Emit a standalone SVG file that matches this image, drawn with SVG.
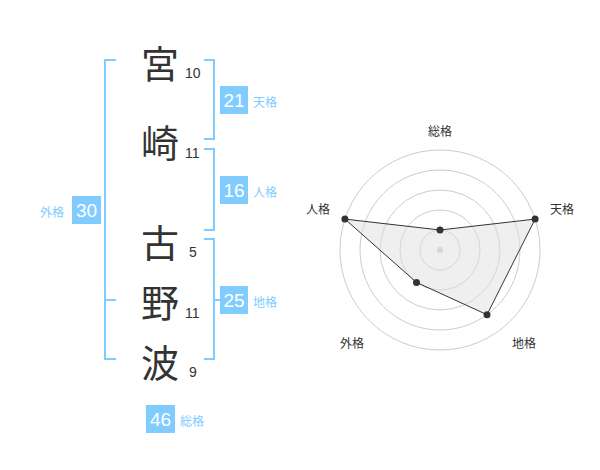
<svg xmlns="http://www.w3.org/2000/svg" width="600" height="470" viewBox="0 0 600 470">
<style>
.kanji{font-family:"Noto Sans CJK JP","Noto Sans CJK SC",sans-serif;font-size:38px;fill:#333;text-anchor:middle;dominant-baseline:central}
.num{font-family:"Liberation Sans",Arial,sans-serif;font-size:14px;fill:#333}
.br{fill:none;stroke:#80ccff;stroke-width:2}
.box{fill:#80ccff}
.bnum{font-family:"Liberation Sans",Arial,sans-serif;font-size:19px;fill:#fff;text-anchor:middle;dominant-baseline:central}
.blab{font-family:"Noto Sans CJK JP",sans-serif;font-size:12px;fill:#80ccff;dominant-baseline:central}
.ring{fill:none;stroke:#ccc;stroke-width:1}
.rlab{font-family:"Noto Sans CJK JP",sans-serif;font-size:12px;fill:#333;text-anchor:middle;dominant-baseline:central}
.pt{fill:#333}
</style>
<rect width="600" height="470" fill="#fff"/>
<g id="chars">
<text class="kanji" x="160" y="61">宮</text>
<text class="kanji" x="160" y="140">崎</text>
<text class="kanji" x="160" y="240">古</text>
<text class="kanji" x="160" y="300">野</text>
<text class="kanji" x="160" y="360">波</text>
<text class="num" x="185" y="78">10</text>
<text class="num" x="185" y="158">11</text>
<text class="num" x="189" y="257">5</text>
<text class="num" x="185" y="318">11</text>
<text class="num" x="189" y="377">9</text>
</g>
<g id="connectors">
<path class="br" d="M116,60 H105 V359 H116 M105,300 H116"/>
<path class="br" d="M204,60 H214 V139 H204"/>
<path class="br" d="M204,149 H214 V230 H204"/>
<path class="br" d="M204,239 H214 V359 H204 M214,300 H224"/>
</g>
<g id="tenkaku"><rect class="box" x="220" y="86" width="28" height="28"/><text class="bnum" x="234" y="100">21</text><text class="blab" x="253" y="101">天格</text></g>
<g id="jinkaku"><rect class="box" x="220" y="176" width="28" height="28"/><text class="bnum" x="234" y="190">16</text><text class="blab" x="253" y="191">人格</text></g>
<g id="gaikaku"><rect class="box" x="72" y="196" width="29" height="28"/><text class="bnum" x="86.5" y="210">30</text><text class="blab" x="40" y="211">外格</text></g>
<g id="chikaku"><rect class="box" x="220" y="286" width="28" height="28"/><text class="bnum" x="234" y="300">25</text><text class="blab" x="253" y="301">地格</text></g>
<g id="soukaku"><rect class="box" x="146" y="405" width="29" height="28"/><text class="bnum" x="160.5" y="419">46</text><text class="blab" x="180" y="420">総格</text></g>
<g id="radar">
<circle class="ring" cx="440" cy="250" r="20"/>
<circle class="ring" cx="440" cy="250" r="40"/>
<circle class="ring" cx="440" cy="250" r="60"/>
<circle class="ring" cx="440" cy="250" r="80"/>
<circle class="ring" cx="440" cy="250" r="100"/>
<circle cx="440" cy="250" r="3" fill="#ccc"/>
<polygon points="440,230 535.1,219.1 487,314.7 416.5,282.4 344.9,219.1" fill="#e0e0e0" fill-opacity="0.5" stroke="#333" stroke-width="1"/>
<circle class="pt" cx="440" cy="230" r="3.5"/>
<circle class="pt" cx="535.1" cy="219.1" r="3.5"/>
<circle class="pt" cx="487" cy="314.7" r="3.5"/>
<circle class="pt" cx="416.5" cy="282.4" r="3.5"/>
<circle class="pt" cx="344.9" cy="219.1" r="3.5"/>
<text class="rlab" x="440" y="130">総格</text>
<text class="rlab" x="562" y="208">天格</text>
<text class="rlab" x="318" y="208">人格</text>
<text class="rlab" x="352" y="342">外格</text>
<text class="rlab" x="524" y="342">地格</text>
</g>
</svg>
